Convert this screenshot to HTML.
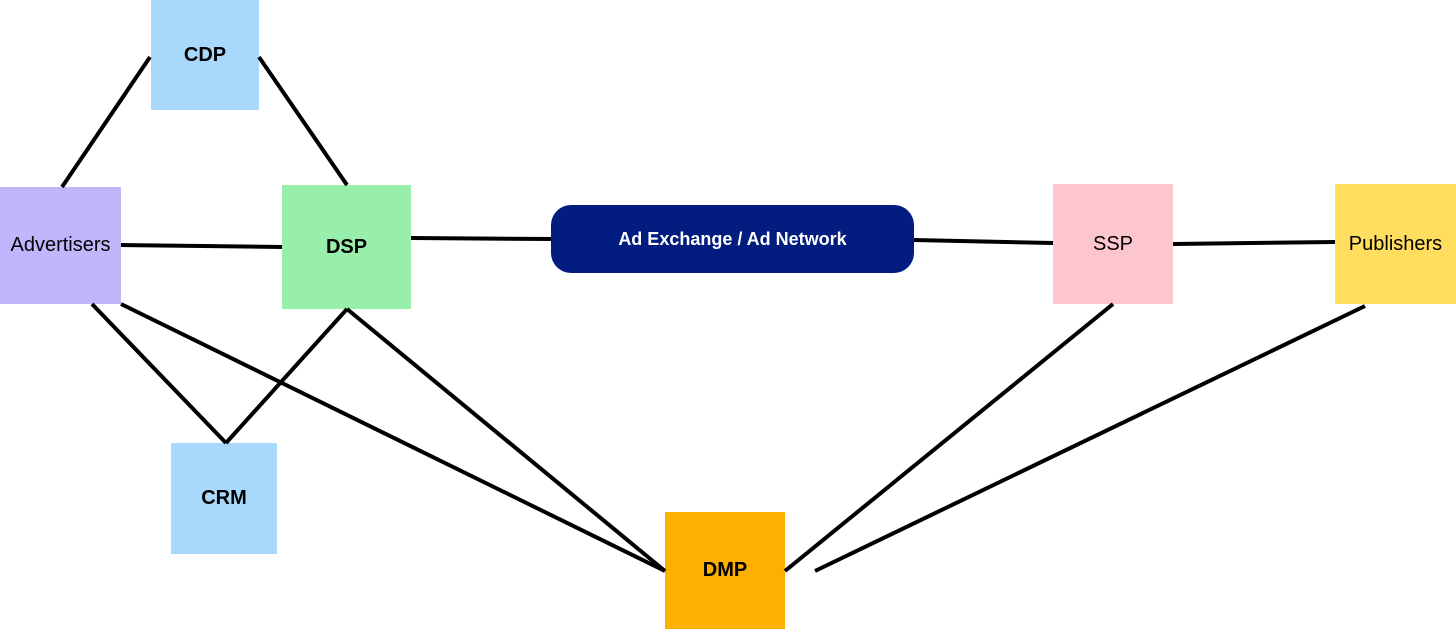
<!DOCTYPE html>
<html><head><meta charset="utf-8"><style>
html,body{margin:0;padding:0;background:#fff;}
body{width:1456px;height:630px;position:relative;overflow:hidden;font-family:"Liberation Sans",sans-serif;}
.n{position:absolute;display:flex;align-items:center;justify-content:center;font-size:20px;color:#000;}
svg{position:absolute;left:0;top:0;}
</style></head><body>
<div class="n" style="left:151px;top:0;width:108px;height:110px;background:#a8d9fd;font-weight:bold;">CDP</div>
<div class="n" style="left:0;top:187px;width:121px;height:117px;background:#c0b6fc;">Advertisers</div>
<div class="n" style="left:282px;top:185px;width:129px;height:124px;background:#98eeab;font-weight:bold;">DSP</div>
<div class="n" style="left:551px;top:205px;width:363px;height:68px;background:#021c80;border-radius:20px;color:#fff;font-size:18px;font-weight:bold;">Ad Exchange / Ad Network</div>
<div class="n" style="left:1053px;top:184px;width:120px;height:120px;background:#fdc6cf;">SSP</div>
<div class="n" style="left:1335px;top:184px;width:121px;height:120px;background:#fedd5f;">Publishers</div>
<div class="n" style="left:171px;top:443px;width:106px;height:111px;background:#a8d9fd;font-weight:bold;">CRM</div>
<div class="n" style="left:665px;top:512px;width:120px;height:117px;background:#fdaf02;font-weight:bold;">DMP</div>
<svg width="1456" height="630" stroke="#000" stroke-width="4">
<line x1="150" y1="57" x2="62" y2="187"/>
<line x1="259" y1="57" x2="347" y2="185"/>
<line x1="121" y1="245" x2="282" y2="247"/>
<line x1="411" y1="238" x2="551" y2="239"/>
<line x1="914" y1="240" x2="1053" y2="243"/>
<line x1="1173" y1="244" x2="1335" y2="242"/>
<line x1="92" y1="304" x2="226" y2="443"/>
<line x1="347" y1="309" x2="226" y2="443"/>
<line x1="121" y1="304" x2="665" y2="571"/>
<line x1="347" y1="309" x2="665" y2="571"/>
<line x1="1113" y1="304" x2="785" y2="571"/>
<line x1="1365" y1="306" x2="815" y2="571"/>
</svg>
</body></html>
